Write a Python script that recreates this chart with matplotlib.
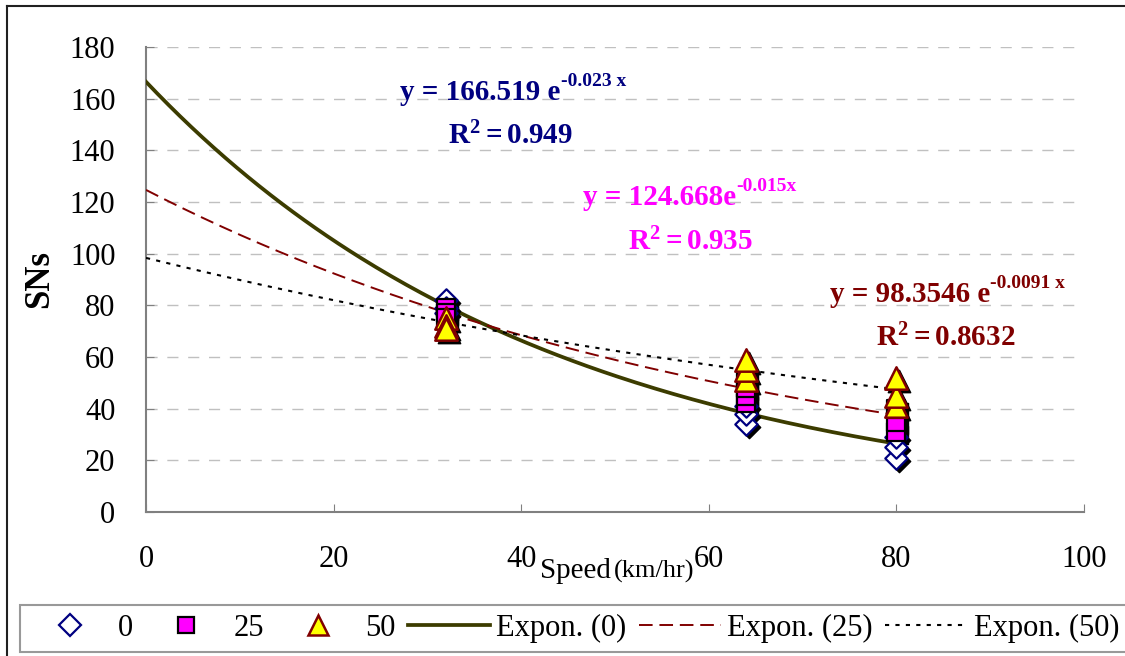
import numpy as np
import matplotlib
matplotlib.use('Agg')
import matplotlib.pyplot as plt
import matplotlib.transforms as mtransforms
from matplotlib.lines import Line2D

plt.rcParams['font.family'] = ['Liberation Serif', 'DejaVu Serif']
plt.rcParams['mathtext.fontset'] = 'custom'
plt.rcParams['mathtext.rm'] = 'Liberation Serif:bold'
plt.rcParams['mathtext.bf'] = 'Liberation Serif:bold'
plt.rcParams['mathtext.it'] = 'Liberation Serif:bold'

# measured points, speed (km/hr) -> SNs
speed_0 = [32, 32, 32, 64, 64, 64, 80, 80, 80]
sn_0 = [82, 79, 77, 34, 38, 41, 21, 25, 29]
speed_25 = [32, 32, 32, 64, 64, 64, 64, 80, 80, 80]
sn_25 = [79, 77, 75, 42, 45, 48, 51, 31, 35, 40]
speed_50 = [32, 32, 32, 64, 64, 64, 80, 80, 80]
sn_50 = [75, 72, 71, 51, 55, 59, 41, 45, 52]

# exponential trend lines as printed on the chart
fit_a = [166.519, 124.668, 98.3546]
fit_b = [-0.023, -0.015, -0.0091]
fit_r2 = ['0.949', '0.935', '0.8632']

fig = plt.figure(figsize=(11.25, 6.56), dpi=100)
ax = fig.add_axes([0.1298, 0.2195, 0.9636 - 0.1298, 0.9284 - 0.2195])

shadow = mtransforms.offset_copy(ax.transData, fig=fig, x=3, y=-3, units='dots')

xs = np.linspace(0, 80, 200)
ax.plot(xs, fit_a[0] * np.exp(fit_b[0] * xs), color='#3c3c00', lw=2.7, zorder=3)
ax.plot(xs, fit_a[1] * np.exp(fit_b[1] * xs), color='#800000', lw=1.4,
        dashes=(7, 3.5), zorder=3)
ax.plot(xs, fit_a[2] * np.exp(fit_b[2] * xs), color='black', lw=1.5,
        dashes=(2, 3), zorder=3)

ax.scatter(speed_0, sn_0, marker='D', s=130, color='black', transform=shadow, zorder=4)
ax.scatter(speed_0, sn_0, marker='D', s=130, facecolor='white', edgecolor='#000080',
           lw=1.6, zorder=5)
ax.scatter(speed_25, sn_25, marker='s', s=170, color='black', transform=shadow, zorder=4)
ax.scatter(speed_25, sn_25, marker='s', s=170, facecolor='#ff00ff', edgecolor='black',
           lw=1.6, zorder=5)
ax.scatter(speed_50, sn_50, marker='^', s=260, color='black', transform=shadow, zorder=4)
ax.scatter(speed_50, sn_50, marker='^', s=260, facecolor='#ffff00', edgecolor='#800000',
           lw=1.8, zorder=6)

ax.set_xlim(0, 100)
ax.set_ylim(0, 180)
ax.set_xticks(np.arange(0, 101, 20))
ax.set_yticks(np.arange(0, 181, 20))
ax.tick_params(direction='in', length=6, color='#808080', labelsize=22)
ax.tick_params(axis='x', pad=24)
ax.tick_params(axis='y', pad=22)
ax.yaxis.grid(True, color='#c0c0c0', dashes=(8, 7), lw=1)
ax.set_axisbelow(True)
for s in ['top', 'right']:
    ax.spines[s].set_visible(False)
for s in ['left', 'bottom']:
    ax.spines[s].set_color('#808080')
    ax.spines[s].set_linewidth(1.5)

ax.set_ylabel('SNs', fontsize=25, fontweight='bold', labelpad=10)
ax.text(0.496, -0.142, 'Speed', transform=ax.transAxes, fontsize=21,
        ha='right', va='baseline')
ax.text(0.499, -0.142, '(km/hr)', transform=ax.transAxes, fontsize=19,
        ha='left', va='baseline')

# trend line equations: base text plus a smaller exponent
eq_colors = ['#000080', '#ff00ff', '#800000']
eq_base = ['y = 166.519 e', 'y = 124.668e', 'y = 98.3546 e']
eq_exp = ['-0.023 x', '-0.015x', '-0.0091 x']
eq_pos = [(27.1, 159.5), (46.6, 118.9), (72.9, 81.3)]
r2_pos = [(32.2, 142.5), (51.4, 101.4), (77.8, 64.3)]
for i in range(3):
    t = ax.text(eq_pos[i][0], eq_pos[i][1], eq_base[i], color=eq_colors[i],
                fontsize=21, fontweight='bold', ha='left', va='baseline')
    ax.annotate(eq_exp[i], xy=(1, 1), xycoords=t, xytext=(0, 4),
                textcoords='offset points', color=eq_colors[i], fontsize=14,
                fontweight='bold', ha='left', va='top')
    ax.text(r2_pos[i][0], r2_pos[i][1], r'$\mathbf{R^2 = ' + fit_r2[i] + '}$',
            color=eq_colors[i], fontsize=21, ha='left', va='baseline')

handles = [
    Line2D([], [], ls='none', marker='D', ms=11, mfc='white', mec='#000080', mew=1.6),
    Line2D([], [], ls='none', marker='s', ms=12, mfc='#ff00ff', mec='black', mew=1.6),
    Line2D([], [], ls='none', marker='^', ms=15, mfc='#ffff00', mec='#800000', mew=1.8),
    Line2D([], [], color='#3c3c00', lw=2.7),
    Line2D([], [], color='#800000', lw=1.4, dashes=(7, 3.5)),
    Line2D([], [], color='black', lw=1.5, dashes=(2, 3)),
]
labels = ['0', '25', '50', 'Expon. (0)', 'Expon. (25)', 'Expon. (50)']
leg = fig.legend(handles, labels, ncol=6, loc='lower left',
                 bbox_to_anchor=(0.0178, 0.006), borderaxespad=0,
                 fontsize=22, frameon=True,
                 fancybox=False, edgecolor='#808080', handlelength=2.7,
                 handletextpad=0.2, columnspacing=0.4, borderpad=0.3)
leg.get_frame().set_linewidth(1.5)

fig.add_artist(Line2D([0.0062, 0.0062], [0, 0.991], color='#202020', lw=1.5))
fig.add_artist(Line2D([0.0062, 1], [0.991, 0.991], color='#202020', lw=1.5))

fig.savefig('out.png', dpi=100)
